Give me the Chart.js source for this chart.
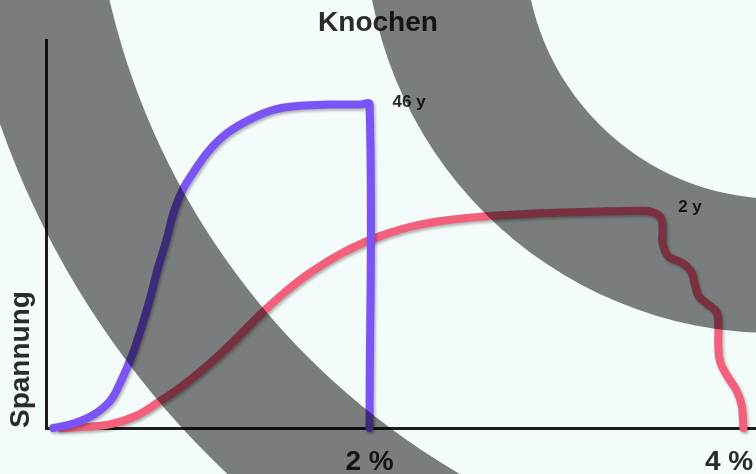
<!DOCTYPE html>
<html>
<head>
<meta charset="utf-8">
<script src="https://cdn.jsdelivr.net/npm/chart.js@4.4.1/dist/chart.umd.min.js"></script>
<style>
  html, body { margin: 0; padding: 0; background: #f4fbfb; }
  canvas { display: block; }
</style>
</head>
<body>
<canvas id="knochen" width="756" height="474"></canvas>
<script>
// strain in %, stress in arbitrary units (0..100)
var xTicks = [2, 4];
var seriesNames = ['46 y', '2 y'];

var oldX = [0.24, 0.36, 0.47, 0.56, 0.62, 0.68, 0.73, 0.78, 0.82, 0.87, 0.91, 0.96, 1.03, 1.11, 1.21, 1.34, 1.47, 1.61, 1.78, 1.95, 2.0, 2.0];
var oldY = [0, 1.3, 3.6, 7.2, 12.4, 18.9, 25.8, 33.6, 40.8, 48.6, 55.6, 61.5, 66.7, 71.8, 76.2, 79.8, 82.2, 83.2, 83.5, 83.5, 83.5, 0];

var youngX = [0.28, 0.42, 0.56, 0.7, 0.82, 0.95, 1.09, 1.24, 1.39, 1.53, 1.67, 1.84, 2.05, 2.28, 2.56, 2.89, 3.23, 3.5, 3.57, 3.62, 3.63, 3.63, 3.66, 3.74, 3.79, 3.81, 3.83, 3.88, 3.93, 3.94, 3.94, 3.95, 3.99, 4.04, 4.07, 4.08];
var youngY = [0, 0.3, 1, 3.1, 6.5, 10.6, 15.8, 22.2, 29.2, 35.1, 40.1, 45, 49.4, 52.5, 54.3, 55.3, 55.8, 56.1, 55.8, 54.3, 51.2, 47.8, 44.4, 42.6, 40.3, 37, 34.1, 32, 30, 26.6, 21.4, 17.1, 13.4, 9.8, 5.9, 0];

function pts(xs, ys) {
    return xs.map(function(x, i) { return {x: x, y: ys[i]}; });
}

var ink = '#2b2b2b';
var fontFamily = "'Liberation Sans', Arial, sans-serif";

var background = {
    id: 'background',
    beforeDraw: function(chart) {
        var c = chart.ctx;
        c.save();
        c.fillStyle = '#f4fbfb';
        c.fillRect(0, 0, chart.width, chart.height);
        c.restore();
    }
};

var shadow = {
    id: 'shadow',
    beforeDatasetsDraw: function(chart) {
        var c = chart.ctx;
        c.save();
        c.shadowColor = 'rgba(0,0,0,0.3)';
        c.shadowBlur = 3;
        c.shadowOffsetX = 1.5;
        c.shadowOffsetY = 2;
    },
    afterDatasetsDraw: function(chart) {
        chart.ctx.restore();
    }
};

// series names written next to the end of each plateau
var endLabels = {
    id: 'endLabels',
    afterDatasetsDraw: function(chart) {
        var c = chart.ctx;
        var xs = chart.scales.x, ys = chart.scales.y;
        var anchors = [
            {x: oldX[20], y: oldY[20], dx: 23, dy: 2},
            {x: youngX[17], y: youngY[17], dx: 39, dy: 1}
        ];
        c.save();
        c.fillStyle = ink;
        c.font = 'bold 17px ' + fontFamily;
        c.textBaseline = 'alphabetic';
        anchors.forEach(function(a, i) {
            c.fillText(seriesNames[i], xs.getPixelForValue(a.x) + a.dx, ys.getPixelForValue(a.y) + a.dy);
        });
        c.restore();
    }
};

// the two dark translucent rings lying over the picture
var rings = {
    id: 'rings',
    afterDraw: function(chart) {
        var c = chart.ctx;
        c.save();
        c.fillStyle = 'rgba(0,0,0,0.5)';
        c.beginPath();
        c.arc(834, -169, 884, 0, Math.PI * 2);
        c.moveTo(834 + 744, -169);
        c.arc(834, -169, 744, 0, Math.PI * 2);
        c.fill('evenodd');
        c.beginPath();
        c.arc(774, -76, 409, 0, Math.PI * 2);
        c.moveTo(779 + 254, -55);
        c.arc(779, -55, 254, 0, Math.PI * 2);
        c.fill('evenodd');
        c.restore();
    }
};

var lineStyle = {
    borderWidth: 8,
    tension: 0.4,
    pointRadius: 0,
    fill: false,
    clip: false,
    borderCapStyle: 'round',
    borderJoinStyle: 'round'
};

new Chart(document.getElementById('knochen'), {
    type: 'line',
    data: {
        datasets: [
            Object.assign({label: seriesNames[0], data: pts(oldX, oldY), borderColor: '#7a54f6'}, lineStyle),
            Object.assign({label: seriesNames[1], data: pts(youngX, youngY), borderColor: '#f4607c'}, lineStyle)
        ]
    },
    options: {
        responsive: false,
        animation: false,
        devicePixelRatio: 1,
        layout: {padding: 0},
        plugins: {
            legend: {display: false},
            tooltip: {enabled: false},
            title: {
                display: true,
                text: 'Knochen',
                color: ink,
                font: {family: fontFamily, size: 28, weight: 'bold', lineHeight: 1.2},
                padding: {top: 6, bottom: 1}
            }
        },
        scales: {
            x: {
                type: 'linear',
                min: 0.2,
                max: 4.15,
                grid: {display: false, drawTicks: false},
                border: {display: true, color: '#1e1e1e', width: 3},
                afterBuildTicks: function(s) {
                    s.ticks = xTicks.map(function(v) { return {value: v}; });
                },
                afterFit: function(s) {
                    s.height = 46;
                    s.paddingLeft = 0;
                    s.paddingRight = 0;
                },
                ticks: {
                    color: ink,
                    font: {family: fontFamily, size: 28, weight: 'bold', lineHeight: 1},
                    padding: 20,
                    maxRotation: 0,
                    autoSkip: false,
                    callback: function(v) { return v + ' %'; }
                }
            },
            y: {
                min: 0,
                max: 100,
                grid: {display: false, drawTicks: false},
                border: {display: true, color: '#1e1e1e', width: 3},
                ticks: {display: false},
                afterFit: function(s) {
                    s.width = 46;
                },
                title: {
                    display: true,
                    text: 'Spannung',
                    align: 'start',
                    color: ink,
                    font: {family: fontFamily, size: 28, weight: 'bold', lineHeight: 1.2},
                    padding: {top: 4, bottom: 8}
                }
            }
        }
    },
    plugins: [background, shadow, endLabels, rings]
});
</script>
</body>
</html>
